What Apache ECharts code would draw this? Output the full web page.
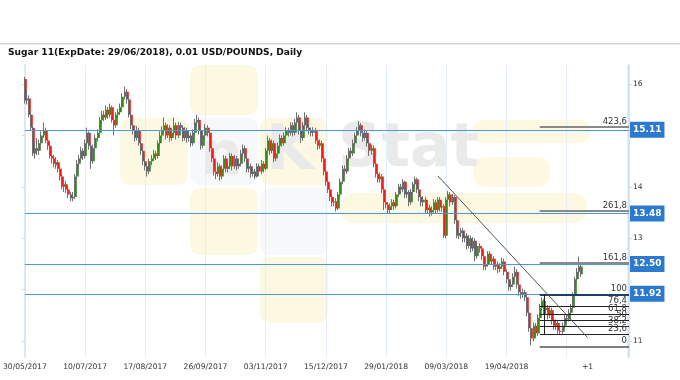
<!DOCTYPE html>
<html>
<head>
<meta charset="utf-8">
<script src="https://cdn.jsdelivr.net/npm/echarts@6/dist/echarts.min.js"></script>
<style>html,body{margin:0;padding:0;background:#fff;}#c{width:680px;height:380px;}</style>
</head>
<body>
<div id="c"></div>
<script>
const titleText = 'Sugar 11(ExpDate: 29/06/2018), 0.01 USD/POUNDS, Daily';
const tickLabels = ['30/05/2017','10/07/2017','17/08/2017','26/09/2017','03/11/2017','15/12/2017','29/01/2018','09/03/2018','19/04/2018'];
const tickStep = 29;
const plusLabel = '+1';
const plusIndex = 271;
const slotCount = 292;
// [open, close, low, high]
const ohlc = [
[16.10,15.68,15.62,16.14],[15.68,15.72,15.60,15.88],[15.72,15.40,15.35,15.78],[15.40,15.15,15.10,15.45],[15.15,14.65,14.60,15.20],
[14.65,14.75,14.55,14.85],[14.75,14.70,14.62,14.95],[14.70,14.85,14.62,14.92],[14.85,15.00,14.80,15.08],[15.00,15.10,14.95,15.25],
[15.10,14.90,14.85,15.15],[14.90,14.80,14.72,14.95],[14.80,14.60,14.55,14.85],[14.60,14.55,14.45,14.70],[14.55,14.45,14.38,14.62],
[14.42,14.48,14.35,14.58],[14.48,14.35,14.28,14.52],[14.35,14.20,14.12,14.40],[14.20,14.00,13.95,14.25],[14.00,14.05,13.90,14.15],
[14.05,13.95,13.88,14.12],[13.95,13.85,13.78,14.00],[13.85,13.78,13.72,13.90],[13.78,13.80,13.72,13.90],[13.80,14.20,13.76,14.25],
[14.20,14.45,14.15,14.52],[14.45,14.55,14.38,14.62],[14.55,14.70,14.48,14.78],[14.70,14.60,14.52,14.75],[14.60,14.85,14.55,14.92],
[14.85,15.05,14.80,15.15],[15.05,14.80,14.72,15.08],[14.80,14.50,14.35,14.85],[14.50,14.75,14.45,14.82],[14.75,14.95,14.70,15.02],
[14.95,15.05,14.88,15.12],[15.05,15.30,15.00,15.36],[15.30,15.40,15.22,15.48],[15.40,15.35,15.28,15.48],[15.35,15.50,15.30,15.58],
[15.50,15.40,15.32,15.55],[15.40,15.55,15.35,15.62],[15.55,15.30,15.25,15.58],[15.30,15.20,15.00,15.35],[15.20,15.40,15.15,15.45],
[15.40,15.45,15.35,15.52],[15.45,15.55,15.40,15.62],[15.55,15.75,15.50,15.82],[15.75,15.85,15.70,15.95],[15.85,15.70,15.62,15.90],
[15.70,15.40,15.35,15.75],[15.40,15.20,15.12,15.45],[15.20,15.10,15.02,15.25],[15.10,14.95,14.88,15.15],[14.95,15.10,14.90,15.18],
[15.10,14.85,14.80,15.15],[14.85,14.70,14.62,14.90],[14.70,14.50,14.42,14.75],[14.50,14.40,14.32,14.55],[14.40,14.30,14.20,14.45],
[14.30,14.50,14.25,14.55],[14.50,14.55,14.42,14.62],[14.55,14.65,14.50,14.72],[14.65,14.60,14.52,14.70],[14.60,14.85,14.55,14.90],
[14.85,15.00,14.80,15.08],[15.00,15.10,14.95,15.18],[15.10,15.20,15.05,15.35],[15.20,15.00,14.92,15.25],[15.00,15.15,14.95,15.22],
[15.15,14.95,14.88,15.20],[14.95,15.05,14.90,15.12],[15.05,15.20,15.00,15.35],[15.20,15.00,14.92,15.25],[15.00,15.20,14.95,15.26],
[15.20,15.15,15.08,15.25],[15.15,14.95,14.88,15.20],[14.95,15.10,14.90,15.16],[15.10,14.95,14.86,15.15],[14.95,15.00,14.88,15.08],
[15.00,14.85,14.78,15.05],[14.85,15.05,14.80,15.12],[15.05,15.25,15.00,15.32],[15.25,15.30,15.18,15.40],[15.30,15.10,15.02,15.35],
[15.10,14.80,14.72,15.15],[14.80,15.00,14.75,15.06],[15.00,15.15,14.95,15.22],[15.15,15.05,14.98,15.20],[15.05,14.75,14.68,15.10],
[14.75,14.55,14.48,14.80],[14.55,14.30,14.22,14.60],[14.30,14.25,14.15,14.38],[14.25,14.40,14.20,14.48],[14.40,14.20,14.12,14.45],
[14.20,14.35,14.15,14.42],[14.35,14.55,14.30,14.62],[14.55,14.35,14.28,14.60],[14.35,14.40,14.28,14.48],[14.40,14.60,14.35,14.66],
[14.60,14.40,14.32,14.65],[14.40,14.55,14.35,14.62],[14.55,14.40,14.32,14.60],[14.40,14.45,14.35,14.52],[14.45,14.65,14.40,14.72],
[14.65,14.75,14.58,14.82],[14.75,14.55,14.48,14.80],[14.55,14.35,14.28,14.60],[14.35,14.40,14.28,14.48],[14.40,14.25,14.18,14.45],
[14.25,14.30,14.20,14.38],[14.30,14.20,14.15,14.35],[14.20,14.40,14.18,14.46],[14.40,14.30,14.22,14.45],[14.30,14.45,14.25,14.52],
[14.45,14.35,14.28,14.50],[14.35,14.70,14.32,14.76],[14.70,14.90,14.65,15.00],[14.90,14.70,14.62,14.95],[14.70,14.85,14.65,14.92],
[14.85,14.55,14.48,14.90],[14.55,14.65,14.50,14.72],[14.65,14.80,14.60,14.86],[14.80,14.95,14.75,15.02],[14.95,14.85,14.78,15.00],
[14.85,15.00,14.80,15.06],[15.00,15.10,14.95,15.16],[15.10,15.05,14.98,15.15],[15.05,15.20,15.00,15.26],[15.20,15.05,14.98,15.25],
[15.05,15.25,15.00,15.32],[15.25,15.35,15.20,15.45],[15.35,15.10,15.02,15.40],[15.10,14.95,14.85,15.15],[14.95,15.20,14.90,15.26],
[15.20,15.35,15.15,15.45],[15.35,15.15,15.08,15.40],[15.15,15.10,15.02,15.22],[15.10,15.05,14.98,15.15],[15.05,15.10,14.98,15.16],
[15.10,14.90,14.84,15.15],[14.90,14.80,14.72,14.95],[14.80,14.85,14.74,14.92],[14.85,14.55,14.48,14.90],[14.55,14.30,14.22,14.60],
[14.30,14.10,14.02,14.35],[14.10,13.95,13.88,14.15],[13.95,13.80,13.72,14.00],[13.80,13.70,13.62,13.85],[13.70,13.72,13.62,13.80],
[13.72,13.58,13.52,13.78],[13.58,13.85,13.55,13.90],[13.85,14.10,13.80,14.16],[14.10,14.35,14.05,14.42],[14.35,14.30,14.22,14.42],
[14.30,14.55,14.25,14.62],[14.55,14.70,14.50,14.76],[14.70,14.65,14.58,14.76],[14.65,14.85,14.60,14.92],[14.85,15.00,14.80,15.06],
[15.00,15.10,14.95,15.16],[15.10,15.20,15.05,15.28],[15.20,15.05,14.98,15.24],[15.05,14.95,14.88,15.10],[14.95,15.05,14.90,15.12],
[15.05,14.85,14.78,15.10],[14.85,14.70,14.60,14.90],[14.70,14.75,14.62,14.82],[14.75,14.45,14.38,14.80],[14.45,14.25,14.18,14.50],
[14.25,14.15,14.08,14.30],[14.15,14.20,14.08,14.28],[14.20,13.95,13.88,14.25],[13.95,13.70,13.55,14.00],[13.70,13.65,13.58,13.78],
[13.65,13.55,13.48,13.70],[13.55,13.62,13.48,13.68],[13.62,13.70,13.55,13.76],[13.70,13.62,13.55,13.75],[13.62,13.85,13.58,13.90],
[13.85,14.00,13.80,14.06],[14.00,13.95,13.88,14.06],[13.95,14.10,13.90,14.15],[14.10,13.85,13.78,14.12],[13.85,13.90,13.78,13.96],
[13.90,13.70,13.62,13.94],[13.70,13.90,13.65,13.96],[13.90,14.05,13.85,14.10],[14.05,14.15,14.00,14.20],[14.15,13.95,13.88,14.18],
[13.95,13.80,13.72,14.00],[13.80,13.70,13.62,13.85],[13.70,13.75,13.62,13.82],[13.75,13.55,13.48,13.80],[13.55,13.60,13.48,13.68],
[13.60,13.50,13.42,13.65],[13.50,13.55,13.44,13.62],[13.55,13.70,13.50,13.76],[13.70,13.55,13.48,13.75],[13.55,13.75,13.50,13.80],
[13.75,13.60,13.52,13.80],[13.60,13.62,13.52,13.70],[13.62,13.05,13.00,13.66],[13.05,13.75,13.00,13.80],[13.75,13.85,13.70,13.92],
[13.85,13.70,13.62,13.90],[13.70,13.80,13.65,13.86],[13.80,13.35,13.28,13.84],[13.35,13.05,13.00,13.40],[13.05,13.10,12.98,13.18],
[13.10,13.15,13.02,13.20],[13.15,13.00,12.92,13.20],[13.00,13.05,12.92,13.12],[13.05,12.85,12.78,13.10],[12.85,13.00,12.80,13.06],
[13.00,12.80,12.72,13.05],[12.80,12.95,12.75,13.02],[12.95,12.65,12.55,13.00],[12.65,12.85,12.60,12.92],[12.85,12.80,12.72,12.90],
[12.80,12.65,12.58,12.85],[12.65,12.45,12.38,12.70],[12.45,12.50,12.38,12.58],[12.50,12.70,12.45,12.75],[12.70,12.55,12.48,12.75],
[12.55,12.60,12.48,12.66],[12.60,12.45,12.38,12.65],[12.45,12.50,12.38,12.56],[12.50,12.40,12.32,12.55],[12.40,12.45,12.34,12.52],
[12.45,12.55,12.40,12.62],[12.55,12.35,12.28,12.60],[12.35,12.20,12.12,12.40],[12.20,12.05,11.98,12.25],[12.05,12.10,11.98,12.16],
[12.10,12.25,12.05,12.32],[12.25,12.35,12.20,12.45],[12.35,12.10,12.02,12.40],[12.10,11.95,11.88,12.15],[11.95,11.90,11.82,12.00],
[11.90,11.95,11.84,12.02],[11.95,11.85,11.78,12.00],[11.85,11.55,11.48,11.90],[11.55,11.25,11.18,11.60],[11.25,11.05,10.92,11.30],
[11.05,11.30,11.00,11.36],[11.30,11.15,11.08,11.35],[11.15,11.45,11.10,11.52],[11.45,11.65,11.40,11.72],[11.65,11.78,11.60,11.85],
[11.78,11.60,11.52,11.82],[11.60,11.65,11.52,11.72],[11.65,11.50,11.42,11.70],[11.50,11.60,11.45,11.66],[11.60,11.40,11.32,11.65],
[11.40,11.30,11.22,11.45],[11.30,11.35,11.22,11.42],[11.35,11.20,11.14,11.40],[11.20,11.18,11.12,11.28],[11.18,11.30,11.14,11.36],
[11.30,11.45,11.25,11.52],[11.45,11.42,11.35,11.52],[11.42,11.55,11.38,11.62],[11.55,11.65,11.50,11.72],[11.65,11.90,11.62,11.95],
[11.90,12.20,11.86,12.25],[12.20,12.35,12.15,12.42],[12.35,12.45,12.28,12.64],[12.30,12.45,12.25,12.52]
];
const levels = [15.11, 13.48, 12.50, 11.92];
const fibNames = ['423,6','261,8','161,8','100','76,4','61,8','50','38,2','23,6','0'];
const fibValues = [15.16, 13.53, 12.52, 11.91, 11.67, 11.52, 11.40, 11.28, 11.13, 10.89];
const fibStart = 248;
const fibEnd = 291;
const fibAnchor = [[250, 11.91], [250, 11.13]];
const trendLine = [[199, 14.21], [271, 11.07]];
const yMin = 10.69, yMax = 16.37;
const yLabelValues = [11, 13, 14, 16];
const yTickValues = [11, 12, 13, 14, 15, 16];

const categories = [];
for (let i = 0; i < slotCount; i++) {
  if (i % tickStep === 0 && tickLabels[i / tickStep] !== undefined) categories.push(tickLabels[i / tickStep]);
  else if (i === plusIndex) categories.push(plusLabel);
  else categories.push('');
}
const seriesData = ohlc.map((d, i) => [i, d[0], d[1], d[2], d[3]]);

const FONT = 'DejaVu Sans';
const chart = echarts.init(document.getElementById('c'), null, {renderer: 'canvas'});

function fibStyle(name) {
  if (name === '100') return {color: '#1f3e66', width: 2};
  if (name === '423,6' || name === '261,8' || name === '161,8') return {color: '#8a8a8a', width: 2};
  if (name === '0') return {color: '#555', width: 1.5};
  return {color: '#222', width: 1};
}

const wmYellow = '#fdf8e2';
const wmWhite = '#f7f8fa';
const wmText = '#eaeaea';
const option = {
  animation: false,
  backgroundColor: '#fff',
  title: {text: titleText, left: 3, top: 43, textStyle: {fontFamily: FONT, fontSize: 9.1, fontWeight: 'bold', color: '#111'}},
  graphic: [
    {type: 'rect', shape: {x: 0, y: 43, width: 680, height: 1.5}, style: {fill: '#d6d6d6'}, z: 0},
    {type: 'group', silent: true, z: 0, children: [
      {type: 'rect', shape: {x: 190, y: 65, width: 68, height: 50, r: 10}, style: {fill: wmYellow}},
      {type: 'rect', shape: {x: 120, y: 118, width: 68, height: 67, r: 10}, style: {fill: wmYellow}},
      {type: 'rect', shape: {x: 190, y: 118, width: 68, height: 67, r: 10}, style: {fill: wmWhite}},
      {type: 'rect', shape: {x: 260, y: 118, width: 68, height: 67, r: 10}, style: {fill: wmYellow}},
      {type: 'rect', shape: {x: 190, y: 188, width: 68, height: 67, r: 10}, style: {fill: wmYellow}},
      {type: 'rect', shape: {x: 260, y: 188, width: 68, height: 67, r: 10}, style: {fill: wmWhite}},
      {type: 'rect', shape: {x: 260, y: 257, width: 68, height: 66, r: 10}, style: {fill: wmYellow}},
      {type: 'rect', shape: {x: 473, y: 120, width: 117, height: 23, r: 11}, style: {fill: wmYellow}},
      {type: 'rect', shape: {x: 473, y: 157, width: 77, height: 30, r: 12}, style: {fill: wmYellow}},
      {type: 'rect', shape: {x: 340, y: 193, width: 247, height: 30, r: 14}, style: {fill: wmYellow}},
      {type: 'text', x: 200, y: 128, style: {text: 'n', font: 'bold 60px "DejaVu Sans"', fill: wmText}},
      {type: 'text', x: 266, y: 122, style: {text: 'K', font: 'bold 62px "DejaVu Sans"', fill: wmText}},
      {type: 'text', x: 338, y: 120, style: {text: 'Stat', font: 'bold 60px "DejaVu Sans"', fill: wmText}}
    ]}
  ],
  grid: {left: 23, right: 51, top: 65, bottom: 23, containLabel: false},
  xAxis: {
    type: 'category', data: categories, boundaryGap: false,
    axisLine: {show: false}, axisTick: {show: false},
    axisLabel: {interval: (i, v) => v !== '', margin: 6, fontFamily: FONT, fontSize: 7.6, color: '#333'},
    splitLine: {show: true, interval: (i) => i % tickStep === 0, lineStyle: {color: '#e4eef9', width: 1}}
  },
  yAxis: [
    {type: 'value', position: 'right', min: yMin, max: yMax,
     axisLine: {show: true, lineStyle: {color: '#d3e3f4', width: 2}},
     axisTick: {show: true, length: 3, customValues: yTickValues, lineStyle: {color: '#c8d8ea'}},
     axisLabel: {show: true, customValues: yLabelValues, margin: 4, fontFamily: FONT, fontSize: 7.6, color: '#333', formatter: v => String(v)},
     splitLine: {show: false}},
    {type: 'value', position: 'left', min: yMin, max: yMax,
     axisLine: {show: true, lineStyle: {color: '#dbe8f6', width: 2}},
     axisTick: {show: true, length: 3, customValues: yTickValues, lineStyle: {color: '#c8d8ea'}},
     axisLabel: {show: false},
     splitLine: {show: false}}
  ],
  series: [
    {
      type: 'custom', yAxisIndex: 0, data: seriesData, z: 3,
      renderItem: function (params, api) {
        const x = api.value(0);
        const o = api.value(1), c = api.value(2), l = api.value(3), h = api.value(4);
        const pO = api.coord([x, o]), pC = api.coord([x, c]), pL = api.coord([x, l]), pH = api.coord([x, h]);
        const up = c >= o;
        const cx = Math.round(pO[0]);
        const top = Math.min(pO[1], pC[1]);
        const hgt = Math.max(1, Math.abs(pO[1] - pC[1]));
        return {type: 'group', children: [
          {type: 'line', shape: {x1: cx - 0.5, y1: pH[1], x2: cx - 0.5, y2: pL[1]}, style: {stroke: '#707070', lineWidth: 1}},
          {type: 'rect', shape: {x: cx, y: top, width: 1.8, height: hgt}, style: {fill: up ? '#2f8d1c' : '#f41c1c'}}
        ]};
      },
      markLine: {
        silent: true, symbol: 'none', z: 5, animation: false,
        data: [].concat(
          levels.map(v => ({yAxis: v, lineStyle: {color: '#4f95e0', width: 1, type: 'solid'},
            label: {show: true, position: 'end', distance: 1, formatter: v.toFixed(2), backgroundColor: '#2b7ad0', color: '#fff',
                    padding: [3, 3, 2, 3], fontFamily: FONT, fontSize: 9, fontWeight: 'bold', lineHeight: 11}})),
          fibValues.map((v, k) => [
            {coord: [fibStart, v], lineStyle: Object.assign({type: 'solid'}, fibStyle(fibNames[k])),
             label: {show: true, position: 'insideEndTop', distance: [2, 1], formatter: fibNames[k], color: '#333', fontFamily: FONT, fontSize: 8.5}},
            {coord: [fibEnd, v]}
          ]),
          [[{coord: fibAnchor[0], lineStyle: {color: '#222', width: 1, type: 'solid'}, label: {show: false}}, {coord: fibAnchor[1]}]],
          [[{coord: trendLine[0], lineStyle: {color: '#555', width: 1, type: 'solid'}, label: {show: false}}, {coord: trendLine[1]}]]
        )
      }
    }
  ]
};
chart.setOption(option);
</script>
</body>
</html>
